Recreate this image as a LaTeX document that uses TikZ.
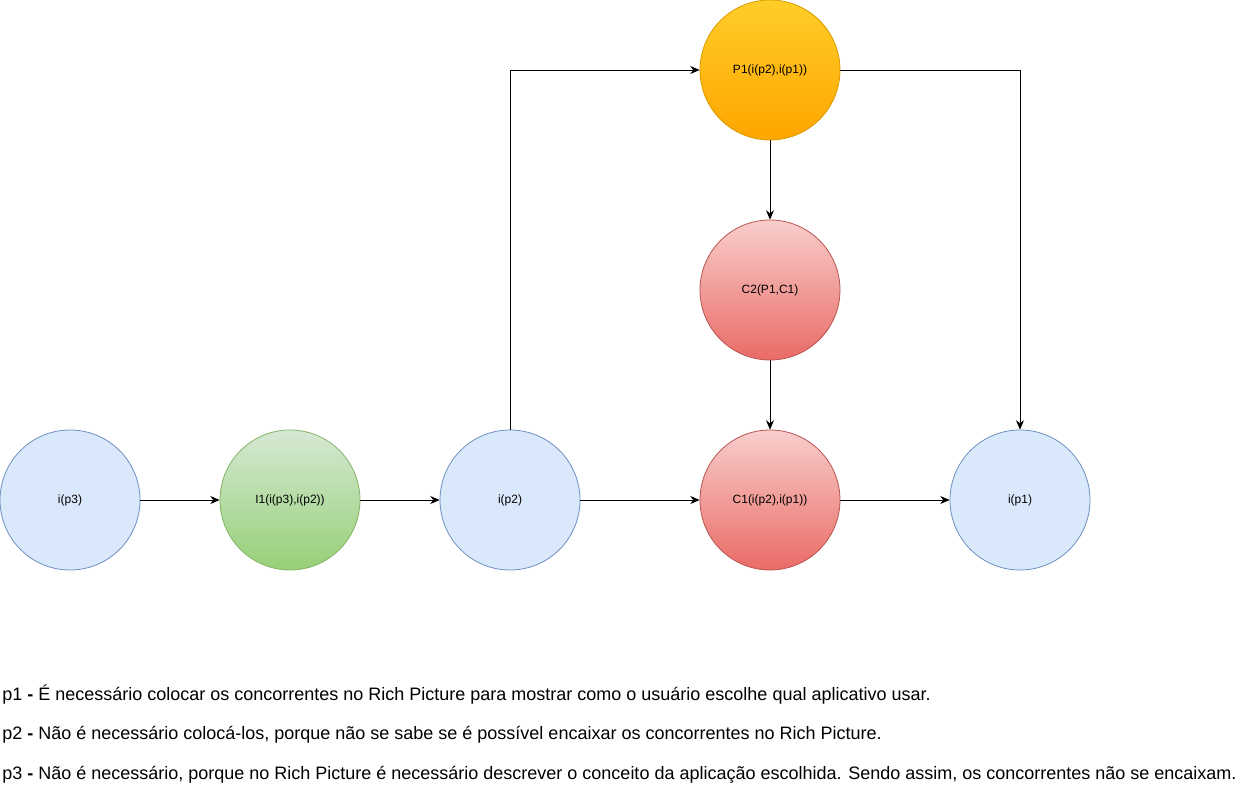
\documentclass[tikz,border=0pt]{standalone}
\usepackage{fontspec}
\setmainfont{Liberation Sans}
\usetikzlibrary{arrows.meta}

\tikzset{
	state/.style={circle, minimum size=105pt, inner sep=0pt, line width=0.6pt, font=\fontsize{9pt}{11pt}\selectfont},
	inpt/.style={state, draw={rgb,255:red,108;green,142;blue,191}, fill={rgb,255:red,218;green,232;blue,252}},
	green/.style={state, draw={rgb,255:red,130;green,179;blue,102}, top color={rgb,255:red,213;green,232;blue,212}, bottom color={rgb,255:red,151;green,208;blue,119}},
	red/.style={state, draw={rgb,255:red,184;green,84;blue,80}, top color={rgb,255:red,248;green,206;blue,204}, bottom color={rgb,255:red,234;green,107;blue,102}},
	orange/.style={state, draw={rgb,255:red,215;green,155;blue,0}, top color={rgb,255:red,255;green,205;blue,40}, bottom color={rgb,255:red,255;green,165;blue,0}},
	link/.style={-{Stealth[length=7pt,width=6pt]}, line width=0.6pt},
	note/.style={anchor=west, inner sep=0pt, font=\fontsize{13.5pt}{16pt}\selectfont}
}

\begin{document}
\begin{tikzpicture}[x=0.75pt,y=-0.75pt]
	
	\useasboundingbox (0,0) rectangle (1236,802);
	
	\node[inpt] (ip3) at (70,500) {i(p3)};
	\node[green] (i1) at (290,500) {I1(i(p3),i(p2))};
	\node[inpt] (ip2) at (510,500) {i(p2)};
	\node[red] (c1) at (770,500) {C1(i(p2),i(p1))};
	\node[inpt] (ip1) at (1020,500) {i(p1)};
	\node[red] (c2) at (770,290) {C2(P1,C1)};
	\node[orange] (p1) at (770,70) {P1(i(p2),i(p1))};
	
	\draw[link] (ip3) -- (i1);
	\draw[link] (i1) -- (ip2);
	\draw[link] (ip2) -- (c1);
	\draw[link] (c1) -- (ip1);
	\draw[link] (p1) -- (c2);
	\draw[link] (c2) -- (c1);
	\draw[link] (ip2.north) |- (p1.west);
	\draw[link] (p1.east) -| (ip1.north);
	
	\node[note] (n1) at (2,695) {p1 \textbf{-} É necessário colocar os concorrentes no Rich Picture para mostrar como o usuário escolhe qual aplicativo usar.};
	\node[note] (n2) at (2,735) {p2 \textbf{-} Não é necessário colocá-los, porque não se sabe se é possível encaixar os concorrentes no Rich Picture.};
	\node[note] (n3) at (2,775) {p3 \textbf{-} Não é necessário, porque no Rich Picture é necessário descrever o conceito da aplicação escolhida. Sendo assim, os concorrentes não se encaixam.};
	
\end{tikzpicture}
\end{document}
